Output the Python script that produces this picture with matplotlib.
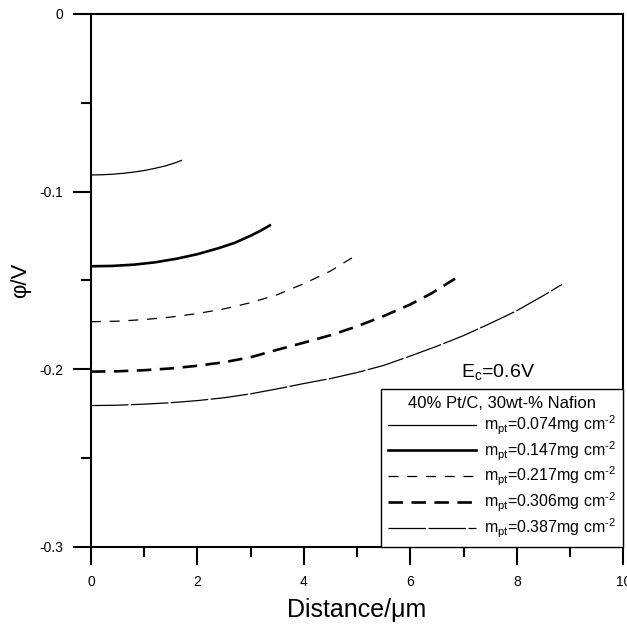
import matplotlib
matplotlib.use('Agg')
import matplotlib.pyplot as plt
from matplotlib.ticker import MultipleLocator

plt.rcParams['font.family'] = ['Liberation Sans', 'DejaVu Sans']
plt.rcParams['mathtext.fontset'] = 'custom'
plt.rcParams['mathtext.rm'] = 'Liberation Sans'
plt.rcParams['mathtext.it'] = 'Liberation Sans:italic'

# curves: distance (um) and potential (V)
x1 = [0, 0.2, 0.4, 0.6, 0.8, 1.0, 1.2, 1.4, 1.6, 1.7]
y1 = [-0.0906, -0.0905, -0.0902, -0.0897, -0.0890, -0.0881, -0.0869, -0.0855, -0.0836, -0.0824]

x2 = [0, 0.4, 0.8, 1.2, 1.6, 2.0, 2.4, 2.7, 3.0, 3.2, 3.36]
y2 = [-0.1420, -0.1418, -0.1411, -0.1398, -0.1378, -0.1352, -0.1318, -0.1288, -0.1248, -0.1218, -0.1190]

x3 = [0, 0.5, 1.0, 1.5, 2.0, 2.5, 3.0, 3.5, 4.0, 4.5, 4.96]
y3 = [-0.1732, -0.1729, -0.1720, -0.1706, -0.1686, -0.1660, -0.1625, -0.1580, -0.1518, -0.1447, -0.1362]

x4 = [0, 0.5, 1.0, 1.5, 2.0, 2.5, 3.0, 3.5, 4.0, 4.5, 5.0, 5.5, 6.0, 6.4, 6.84]
y4 = [-0.2013, -0.2011, -0.2005, -0.1995, -0.1980, -0.1960, -0.1932, -0.1890, -0.1850, -0.1808, -0.1758,
      -0.1700, -0.1635, -0.1572, -0.1490]

x5 = [0, 0.5, 1.0, 1.5, 2.0, 2.5, 3.0, 3.5, 4.0, 4.5, 5.0, 5.5, 6.0, 6.5, 7.0, 7.5, 8.0, 8.5, 8.85]
y5 = [-0.2204, -0.2202, -0.2196, -0.2188, -0.2176, -0.2160, -0.2138, -0.2110, -0.2080, -0.2052, -0.2018,
      -0.1978, -0.1925, -0.1870, -0.1810, -0.1742, -0.1670, -0.1585, -0.1522]

loadings = ['0.074', '0.147', '0.217', '0.306', '0.387']

fig = plt.figure(figsize=(6.27, 6.24), dpi=100)
ax = fig.add_axes([0.145, 0.1234, 0.849, 0.8542])

def lab(m):
    return r'm$_{\rm pt}$=' + m + r'mg cm$^{\text{-2}}$'

ax.plot(x1, y1, color='black', lw=0.9, ls='-', label=lab(loadings[0]))
ax.plot(x2, y2, color='black', lw=1.9, ls='-', label=lab(loadings[1]))
ax.plot(x3, y3, color='black', lw=0.9, ls=(0, (8, 7)), label=lab(loadings[2]))
ax.plot(x4, y4, color='black', lw=1.9, ls=(0, (5.5, 3.2)), label=lab(loadings[3]))
ax.plot(x5, y5, color='black', lw=0.9, ls=(0, (30, 2)), label=lab(loadings[4]))

ax.set_xlim(0, 10)
ax.set_ylim(-0.3, 0)
ax.xaxis.set_minor_locator(MultipleLocator(1))
ax.yaxis.set_minor_locator(MultipleLocator(0.05))
ax.set_xticks([0, 2, 4, 6, 8, 10])
ax.set_xticklabels(['0', '2', '4', '6', '8', '10'])
ax.set_yticks([0, -0.1, -0.2, -0.3])
ax.set_yticklabels(['0', '-0.1', '-0.2', '-0.3'])

ax.tick_params(which='major', direction='out', length=13, width=1.5, labelsize=10)
ax.tick_params(axis='y', which='major', pad=7)
ax.tick_params(axis='x', which='major', pad=7)
ax.tick_params(which='minor', direction='out', length=7.5, width=1.5)
for s in ax.spines.values():
    s.set_linewidth(1.5)

ax.set_xlabel('Distance/\u03bcm', fontsize=18, labelpad=7)
ax.set_ylabel('\u03c6/V', fontsize=16, labelpad=6)

ax.text(7.65, -0.2015, r'E$_{\rm c}$=0.6V', fontsize=14, ha='center', va='center', zorder=10)

leg = ax.legend(loc='lower right', title='40% Pt/C, 30wt-% Nafion', fontsize=11.5,
                title_fontsize=12, handlelength=5.5, borderaxespad=0, fancybox=False,
                edgecolor='black', framealpha=1, labelspacing=0.15, handletextpad=0.5,
                borderpad=0.45)
leg.get_frame().set_linewidth(1.0)

fig.savefig('out.png', dpi=100)
